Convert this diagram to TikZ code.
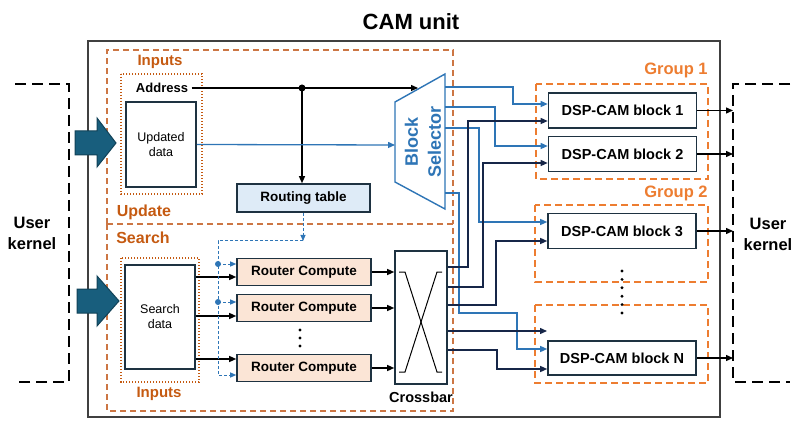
\documentclass[tikz,border=0pt]{standalone}
\usepackage{fontspec}
\setmainfont{Liberation Sans}
\usetikzlibrary{arrows.meta}

\definecolor{lblorange}{RGB}{197,90,17}
\definecolor{grporange}{RGB}{237,125,49}
\definecolor{stageorange}{RGB}{204,118,68}
\definecolor{selblue}{RGB}{46,117,182}
\definecolor{wirenavy}{RGB}{22,38,72}
\definecolor{bigblue}{RGB}{24,94,125}
\definecolor{edgedark}{RGB}{30,50,65}
\definecolor{rcfill}{RGB}{251,229,214}
\definecolor{rtfill}{RGB}{222,235,247}

\tikzset{
    block/.style={draw=edgedark, line width=1.6pt, fill=white, minimum width=148pt,
        minimum height=35pt, inner sep=0pt, font=\bfseries\fontsize{14.5}{16}\selectfont},
    router/.style={block, fill=rcfill, minimum width=134pt, minimum height=27pt,
        font=\bfseries\fontsize{13.5}{15}\selectfont},
    rtbox/.style={router, fill=rtfill, minimum width=133pt, minimum height=28pt},
    databox/.style={draw=edgedark, line width=1.6pt, fill=white, minimum width=70pt,
        align=center, font=\fontsize{12.5}{15}\selectfont},
    grpbox/.style={draw=grporange, line width=2pt, dash pattern=on 7pt off 4pt},
    stagebox/.style={draw=stageorange, line width=1.4pt, dash pattern=on 6pt off 4pt},
    inbox/.style={draw=lblorange, line width=1.4pt, dash pattern=on 1.4pt off 1.6pt},
    lbl/.style={text=lblorange, font=\bfseries\fontsize{16}{18}\selectfont},
    grplbl/.style={text=grporange, font=\bfseries\fontsize{16.5}{18}\selectfont},
    wire/.style={line width=1.3pt, -{Triangle[length=7pt,width=6pt]}},
    bluewire/.style={wire, draw=selblue},
    navywire/.style={wire, draw=wirenavy},
    rtwire/.style={draw=selblue, line width=1pt, dash pattern=on 3pt off 2pt},
    kernel/.style={line width=2.7pt, dash pattern=on 11pt off 6pt},
    bigarrow/.style={fill=bigblue, draw=bigblue!70!black, line width=1pt},
}

\begin{document}
\begin{tikzpicture}[x=1pt, y=-1pt]
    \useasboundingbox (0,0) rectangle (799,435);

    % CAM unit frame
    \node[font=\bfseries\fontsize{22}{24}\selectfont] (title) at (411,22) {CAM unit};
    \draw[black!75, line width=1.3pt] (88,41) rectangle (720,417);

    % Update and Search stages
    \draw[stagebox] (107,224) -- (107,50) -- (453,50) -- (453,224);
    \draw[stagebox] (107,224) rectangle (453,411);
    \node[lbl] (upl) at (144,212) {Update};
    \node[lbl] (srl) at (143,238) {Search};
    \draw[inbox] (121,74) rectangle (202,194);
    \draw[inbox] (121,258) rectangle (199,382);
    \node[lbl, font=\bfseries\fontsize{15}{18}\selectfont] (inup) at (160,62) {Inputs};
    \node[lbl, font=\bfseries\fontsize{15}{18}\selectfont] (insr) at (159,394) {Inputs};

    % User kernels
    \draw[kernel] (15,84) -- (69,84) -- (69,382) -- (15,382);
    \draw[kernel] (790,84) -- (733,84) -- (733,382) -- (790,382);
    \node[align=center, font=\bfseries\fontsize{16.5}{21}\selectfont] (ukl) at (32,233) {User\\kernel};
    \node[align=center, font=\bfseries\fontsize{16.5}{21}\selectfont] (ukr) at (768,234) {User\\kernel};
    \coordinate (rk) at (733,0);
    \draw[bigarrow] (75,131) -- (97,131) -- (97,118) -- (116,143) -- (97,167) -- (97,155) -- (75,155) -- cycle;
    \draw[bigarrow] (77,289) -- (97,289) -- (97,276) -- (119,301) -- (97,326) -- (97,313) -- (77,313) -- cycle;

    % Groups
    \draw[grpbox] (536,84) rectangle (708,179);
    \draw[grpbox] (535,205) rectangle (708,282);
    \draw[grpbox] (535,305) rectangle (708,383);
    \node[grplbl] (g1) at (676,70) {Group 1};
    \node[grplbl] (g2) at (676,193) {Group 2};
    \foreach \k in {0,...,5}
        \fill (622,{271+8.4*\k}) circle (1.6pt);

    % DSP-CAM blocks
    \node[block] (b1) at (622.5,110.5) {DSP-CAM block 1};
    \node[block] (b2) at (622.5,154) {DSP-CAM block 2};
    \node[block] (b3) at (622,231) {DSP-CAM block 3};
    \node[block, minimum height=34pt] (bN) at (622,358) {DSP-CAM block N};
    \foreach \b in {b1,b2,b3,bN}
        \draw[wire] (\b.east) -- (\b.east -| rk);

    % Update path
    \node[font=\bfseries\fontsize{13}{15}\selectfont] (addr) at (162,88) {Address};
    \node[databox, minimum height=85pt] (upd) at (161,144.5) {Updated\\data};
    \node[rtbox] (rt) at (303.5,198) {Routing table};
    \draw[selblue, line width=1.4pt, fill=white] (395,102) -- (445,74) -- (445,209) -- (395,182) -- cycle;
    \node[rotate=90, align=center, text=selblue, font=\bfseries\fontsize{18}{23}\selectfont] (sel) at (423,142) {Block\\Selector};
    \coordinate (seltop) at (418,88);
    \coordinate (selin) at (395,145);
    \coordinate (split) at (302,88);
    \draw[wire] (addr.east) -- (seltop);
    \fill (split) circle (3.5pt);
    \draw[wire] (split) -- (split |- rt.north);
    \draw[bluewire] (upd.east) -- (selin);

    % Block selector outputs
    \coordinate (s1) at (445,87);
    \coordinate (s2) at (445,107);
    \coordinate (s3) at (445,128);
    \coordinate (s4) at (445,193);
    \draw[bluewire] (s1) -| (513,104) -- (b1.west |- 0,104);
    \draw[bluewire] (s2) -| (495,146) -- (b2.west |- 0,146);
    \draw[bluewire] (s3) -| (479,222) -- (b3.west |- 0,222);
    \draw[bluewire] (s4) -| (459,313) -| (517,349) -- (bN.west |- 0,349);

    % Search path
    \node[databox, minimum height=104pt] (sd) at (160,317) {Search\\data};
    \node[router] (rc1) at (304,272) {Router Compute};
    \node[router] (rc2) at (304,308) {Router Compute};
    \node[router] (rc3) at (304,368) {Router Compute};
    \foreach \y in {330,338,346}
        \fill (300,\y) circle (1.6pt);
    \draw[wire] (sd.east |- 0,277) -- (rc1.west |- 0,277);
    \draw[wire] (sd.east |- 0,316) -- (rc2.west |- 0,316);
    \draw[wire] (sd.east |- 0,359) -- (rc3.west |- 0,359);

    % Routing table to routers
    \coordinate (rtdn) at (303,241);
    \draw[rtwire, -{Triangle[length=6pt,width=5pt]}] (rt.south -| rtdn) -- (rtdn);
    \draw[rtwire, -{Triangle[length=6pt,width=5pt]}] (rtdn) -| (218,375) -- (rc3.west |- 0,375);
    \fill[selblue] (218,264) circle (3pt);
    \fill[selblue] (218,302) circle (3pt);
    \draw[rtwire, -{Triangle[length=6pt,width=5pt]}] (218,264) -- (rc1.west |- 0,264);
    \draw[rtwire, -{Triangle[length=6pt,width=5pt]}] (218,302) -- (rc2.west |- 0,302);

    % Crossbar
    \node[draw=edgedark, line width=1.6pt, minimum width=52pt, minimum height=133pt] (xb) at (421,317.5) {};
    \node[font=\bfseries\fontsize{14.5}{16}\selectfont] (xbl) at (421,397) {Crossbar};
    \draw[line width=1pt] (399,272) -- (405,272) -- (437,372) -- (442,372);
    \draw[line width=1pt] (442,272) -- (437,272) -- (405,372) -- (399,372);
    \draw[wire] (rc1.east) -- (xb.west |- rc1.east);
    \draw[wire] (rc2.east) -- (xb.west |- rc2.east);
    \draw[wire] (rc3.east) -- (xb.west |- rc3.east);

    % Crossbar outputs
    \coordinate (nin) at (547,331);
    \draw[navywire] (xb.east |- 0,267) -| (468,121) -- (b1.west |- 0,121);
    \draw[navywire] (xb.east |- 0,287) -| (483,163) -- (b2.west |- 0,163);
    \draw[navywire] (xb.east |- 0,305) -| (496,241) -- (b3.west |- 0,241);
    \draw[navywire] (xb.east |- nin) -- (nin);
    \draw[navywire] (xb.east |- 0,350) -| (497,369) -- (bN.west |- 0,369);
\end{tikzpicture}
\end{document}
